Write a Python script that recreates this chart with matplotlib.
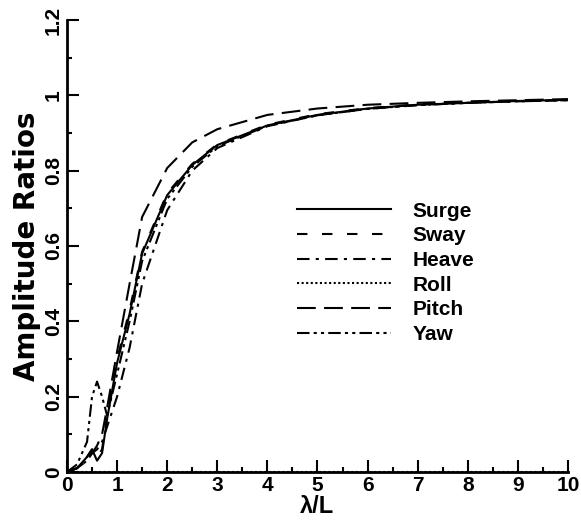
"""
Amplitude ratios vs wavelength / ship length
"""
import numpy as np
import matplotlib
matplotlib.use('Agg')
import matplotlib.pyplot as plt

################################################################################
# Data
################################################################################
lam         = [0.0, 0.2, 0.4, 0.5, 0.6, 0.7, 0.8, 1.0, 1.25, 1.5, 2.0, 2.5, 3.0, 4.0, 5.0, 6.0, 7.0, 8.0, 9.0, 10.0]

surge       = [0.0, 0.01, 0.04, 0.06, 0.03, 0.05, 0.14, 0.29, 0.42, 0.58, 0.735, 0.815, 0.868, 0.92, 0.948, 0.965, 0.975, 0.980, 0.985, 0.988]
sway        = [0.0, 0.01, 0.04, 0.06, 0.04, 0.06, 0.15, 0.30, 0.43, 0.585, 0.74, 0.818, 0.870, 0.922, 0.950, 0.966, 0.976, 0.981, 0.985, 0.988]
heave       = [0.0, 0.01, 0.03, 0.05, 0.06, 0.08, 0.12, 0.20, 0.33, 0.50, 0.695, 0.80, 0.860, 0.918, 0.947, 0.964, 0.974, 0.980, 0.984, 0.987]
roll        = [0.0] * len(lam)
pitch       = [0.0, 0.01, 0.03, 0.05, 0.07, 0.10, 0.17, 0.32, 0.50, 0.677, 0.807, 0.875, 0.910, 0.948, 0.965, 0.975, 0.980, 0.984, 0.987, 0.990]
yaw         = [0.0, 0.02, 0.08, 0.20, 0.24, 0.20, 0.15, 0.26, 0.40, 0.56, 0.725, 0.81, 0.865, 0.919, 0.947, 0.964, 0.974, 0.980, 0.984, 0.987]

labels      = ['Surge', 'Sway', 'Heave', 'Roll', 'Pitch', 'Yaw']
series      = [surge, sway, heave, roll, pitch, yaw]
styles      = ['-', (0, (5, 7)), (0, (6, 3, 1.5, 3)), (0, (1, 1.2)), (0, (9, 4)), (0, (6, 2, 1.5, 2, 1.5, 2))]

xticks      = np.arange(0, 11, 1)
yticks      = [0, 0.2, 0.4, 0.6, 0.8, 1.0, 1.2]
ytick_lbls  = ['0', '0.2', '0.4', '0.6', '0.8', '1', '1.2']

################################################################################
# Plot
################################################################################
plt.rcParams['font.family']     = ['Liberation Sans', 'DejaVu Sans']
plt.rcParams['font.weight']     = 'bold'

fig = plt.figure(figsize = (5.81, 5.26), dpi = 100)
ax  = fig.add_axes([0.1153, 0.1027, 0.8623, 0.8593])

for y, lab, ls in zip(series, labels, styles):
    ax.plot(lam, y, color = 'k', linestyle = ls, linewidth = 1.5, label = lab)

ax.set_xlim(0, 10)
ax.set_ylim(0, 1.2)
ax.set_xticks(xticks)
ax.set_xticks(np.arange(0.5, 10, 1), minor = True)
ax.set_yticks(yticks)
ax.set_yticklabels(ytick_lbls, rotation = 90, va = 'center')
ax.set_yticks(np.arange(0.1, 1.2, 0.2), minor = True)

ax.tick_params(which = 'both', direction = 'in', labelsize = 15, width = 1.5, pad = 3)
ax.tick_params(which = 'major', length = 8.5)
ax.tick_params(which = 'minor', length = 3.5)

for side in ['top', 'right']:
    ax.spines[side].set_visible(False)
for side in ['left', 'bottom']:
    ax.spines[side].set_linewidth(2)

ax.set_xlabel('λ/L', fontsize = 17, fontweight = 'bold', labelpad = 0)
ax.set_ylabel('Amplitude Ratios', fontsize = 20, fontweight = 'bold', labelpad = 2,
              family = ['DejaVu Sans'])

ax.legend(loc = 'upper left', bbox_to_anchor = (0.459, 0.598), frameon = False,
          borderaxespad = 0, borderpad = 0,
          fontsize = 15, handlelength = 4.5, handletextpad = 1.05, labelspacing = 0.27)

fig.savefig('out.png', dpi = 100)
